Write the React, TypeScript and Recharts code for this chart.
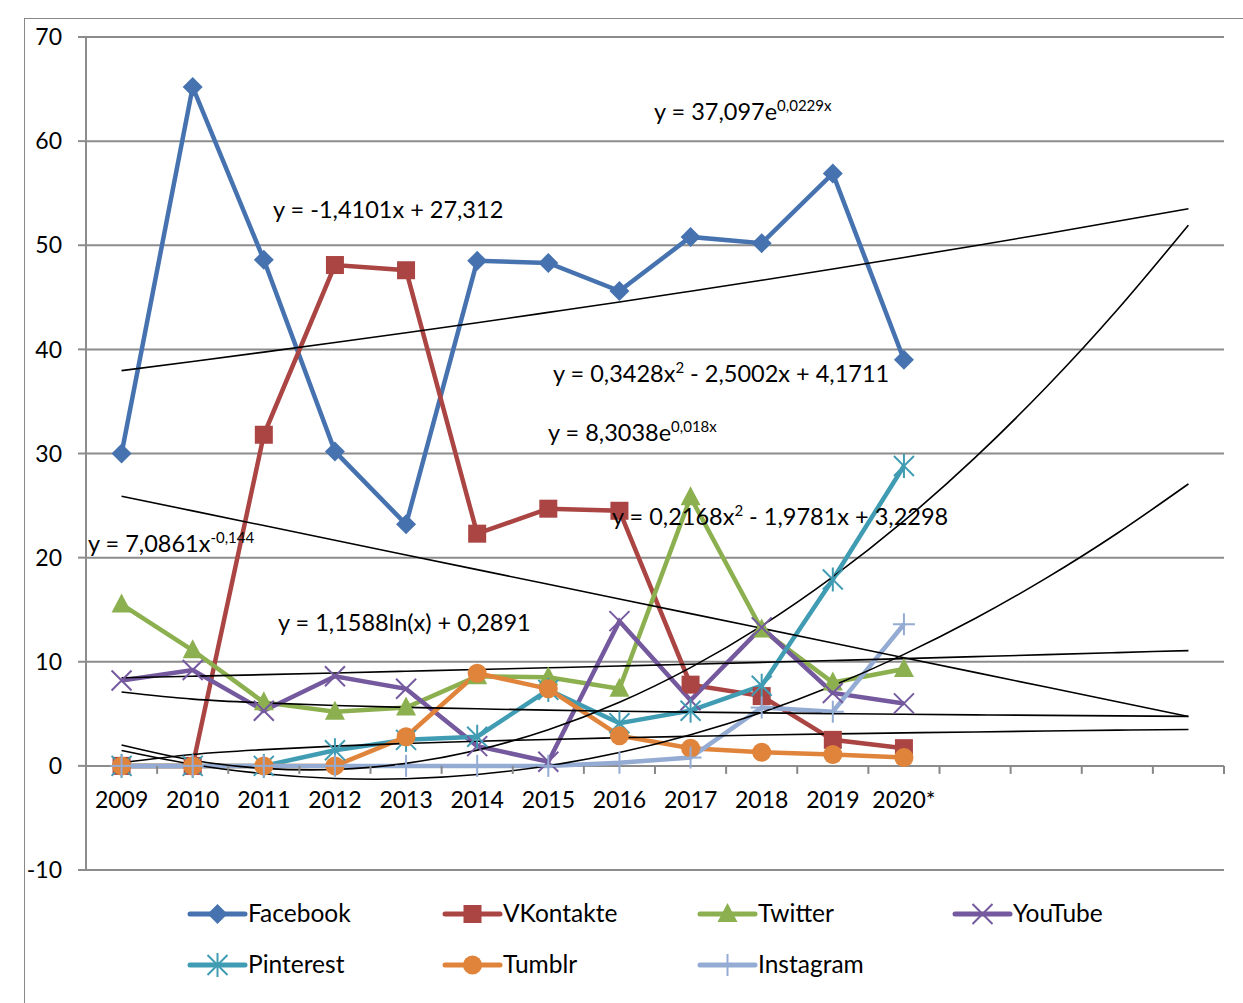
import React from "react";
import { LineChart, Line, XAxis, YAxis, CartesianGrid } from "recharts";

// categories (last four are empty forecast slots used by the trendlines)
const YEARS = ["2009", "2010", "2011", "2012", "2013", "2014", "2015", "2016", "2017", "2018", "2019", "2020*"];
const CATEGORIES = [...YEARS, "", "", "", ""];

const FACEBOOK = [30, 65.2, 48.6, 30.2, 23.2, 48.5, 48.3, 45.6, 50.8, 50.2, 56.9, 39.0];
const VKONTAKTE = [0, 0, 31.8, 48.1, 47.6, 22.3, 24.7, 24.5, 7.8, 6.7, 2.5, 1.7];
const TWITTER = [15.5, 11.1, 6.1, 5.2, 5.6, 8.6, 8.5, 7.4, 25.8, 13.1, 8.0, 9.3];
const YOUTUBE = [8.2, 9.2, 5.3, 8.6, 7.4, 1.9, 0.4, 13.9, 6.3, 13.3, 7.0, 6.0];
const PINTEREST = [0, 0, 0, 1.5, 2.5, 2.8, 7.3, 4.1, 5.3, 7.7, 17.9, 28.8];
const TUMBLR = [0, 0, 0, 0, 2.8, 8.9, 7.4, 2.9, 1.7, 1.3, 1.1, 0.8];
const INSTAGRAM = [0, 0, 0, 0, 0, 0, 0, 0.3, 0.8, 5.6, 5.2, 13.6];

// trendline values read at each category position
const TREND_FB = [37.96, 38.84, 39.74, 40.66, 41.6, 42.56, 43.55, 44.55, 45.59, 46.64, 47.72, 48.83, 49.96, 51.11, 52.3, 53.51];
const TREND_VK = [25.9, 24.49, 23.08, 21.67, 20.26, 18.85, 17.44, 16.03, 14.62, 13.21, 11.8, 10.39, 8.98, 7.57, 6.16, 4.75];
const TREND_TW = [8.46, 8.61, 8.76, 8.92, 9.09, 9.25, 9.42, 9.59, 9.76, 9.94, 10.12, 10.3, 10.49, 10.68, 10.88, 11.07];
const TREND_YT = [7.09, 6.41, 6.05, 5.8, 5.62, 5.48, 5.35, 5.25, 5.16, 5.09, 5.02, 4.96, 4.9, 4.85, 4.8, 4.75];
const TREND_PI = [2.01, 0.54, -0.24, -0.35, 0.24, 1.51, 3.47, 6.11, 9.44, 13.45, 18.15, 23.53, 29.6, 36.36, 43.8, 51.93];
const TREND_TU = [0.29, 1.09, 1.56, 1.9, 2.15, 2.37, 2.54, 2.7, 2.84, 2.96, 3.07, 3.17, 3.26, 3.35, 3.43, 3.5];
const TREND_IN = [1.47, 0.14, -0.75, -1.21, -1.24, -0.83, 0.01, 1.28, 2.99, 5.13, 7.7, 10.71, 14.15, 18.03, 22.34, 27.08];

const Y_TICKS = [-10, 0, 10, 20, 30, 40, 50, 60, 70];

const FONT = "Lato, 'Open Sans', sans-serif";

const W = 1243;
const H = 1003;
const X_H = 30;
const MARGIN = { top: 37, right: 19, bottom: 133 - X_H, left: 0 };
const Y_W = 86;
const PLOT_H = H - MARGIN.top - MARGIN.bottom - X_H;
const PLOT_W = W - MARGIN.right - Y_W;
const BAND = PLOT_W / CATEGORIES.length;
const ZERO_UP = (PLOT_H * 10) / 80; // distance from -10 (chart bottom) to the 0 line

type Shape = "diamond" | "square" | "triangle" | "x" | "star" | "circle" | "plus";

const SERIES: { key: string; name: string; color: string; shape: Shape; values: number[] }[] = [
  { key: "facebook", name: "Facebook", color: "#4673B0", shape: "diamond", values: FACEBOOK },
  { key: "vkontakte", name: "VKontakte", color: "#AA4543", shape: "square", values: VKONTAKTE },
  { key: "twitter", name: "Twitter", color: "#8CB04F", shape: "triangle", values: TWITTER },
  { key: "youtube", name: "YouTube", color: "#75599E", shape: "x", values: YOUTUBE },
  { key: "pinterest", name: "Pinterest", color: "#409CB3", shape: "star", values: PINTEREST },
  { key: "tumblr", name: "Tumblr", color: "#E0843B", shape: "circle", values: TUMBLR },
  { key: "instagram", name: "Instagram", color: "#94ABD3", shape: "plus", values: INSTAGRAM },
];

const TRENDS: { key: string; values: number[]; curve: "linear" | "natural" }[] = [
  { key: "tFb", values: TREND_FB, curve: "natural" },
  { key: "tVk", values: TREND_VK, curve: "linear" },
  { key: "tTw", values: TREND_TW, curve: "natural" },
  { key: "tYt", values: TREND_YT, curve: "natural" },
  { key: "tPi", values: TREND_PI, curve: "natural" },
  { key: "tTu", values: TREND_TU, curve: "natural" },
  { key: "tIn", values: TREND_IN, curve: "natural" },
];

const data = CATEGORIES.map((label, i) => {
  const row: any = { idx: i, label };
  SERIES.forEach((s) => (row[s.key] = s.values[i]));
  TRENDS.forEach((t) => (row[t.key] = t.values[i]));
  return row;
});

function Marker({ shape, cx, cy, color }: { shape: Shape; cx: number; cy: number; color: string }) {
  switch (shape) {
    case "diamond":
      return <polygon points={`${cx},${cy - 10} ${cx + 10},${cy} ${cx},${cy + 10} ${cx - 10},${cy}`} fill={color} />;
    case "square":
      return <rect x={cx - 9} y={cy - 9} width={18} height={18} fill={color} />;
    case "triangle":
      return <polygon points={`${cx},${cy - 11} ${cx + 10},${cy + 8} ${cx - 10},${cy + 8}`} fill={color} />;
    case "circle":
      return <circle cx={cx} cy={cy} r={9.5} fill={color} />;
    case "x":
      return (
        <g stroke={color} strokeWidth={2}>
          <line x1={cx - 10} y1={cy - 10} x2={cx + 10} y2={cy + 10} />
          <line x1={cx - 10} y1={cy + 10} x2={cx + 10} y2={cy - 10} />
        </g>
      );
    case "star":
      return (
        <g stroke={color} strokeWidth={2}>
          <line x1={cx - 10} y1={cy - 10} x2={cx + 10} y2={cy + 10} />
          <line x1={cx - 10} y1={cy + 10} x2={cx + 10} y2={cy - 10} />
          <line x1={cx} y1={cy - 12} x2={cx} y2={cy + 12} />
        </g>
      );
    case "plus":
      return (
        <g stroke={color} strokeWidth={2}>
          <line x1={cx - 11} y1={cy} x2={cx + 11} y2={cy} />
          <line x1={cx} y1={cy - 11} x2={cx} y2={cy + 11} />
        </g>
      );
  }
  return null;
}

const makeDot = (shape: Shape, color: string) => (props: any) => {
  const { cx, cy, value, index } = props;
  if (value == null || cy == null || isNaN(cy)) return <g key={`d-${index}`} />;
  return (
    <g key={`d-${index}`}>
      <Marker shape={shape} cx={cx} cy={cy} color={color} />
    </g>
  );
};

function XTick(props: any) {
  const { x, y, payload } = props;
  const y0 = y - ZERO_UP;
  const label = CATEGORIES[payload.value] ?? "";
  return (
    <g>
      <line x1={x + BAND / 2} y1={y0} x2={x + BAND / 2} y2={y0 + 8} stroke="#888" strokeWidth={2} />
      <text x={x} y={y0 + 42} textAnchor="middle" fontSize={23} fontFamily={FONT} fill="#000">
        {label}
      </text>
    </g>
  );
}

const LABELS: { x: number; y: number; parts: { t: string; sup?: boolean }[] }[] = [
  { x: 654, y: 120, parts: [{ t: "y = 37,097e" }, { t: "0,0229x", sup: true }] },
  { x: 273, y: 218, parts: [{ t: "y = -1,4101x + 27,312" }] },
  { x: 553, y: 382, parts: [{ t: "y = 0,3428x" }, { t: "2", sup: true }, { t: " - 2,5002x + 4,1711" }] },
  { x: 548, y: 441, parts: [{ t: "y = 8,3038e" }, { t: "0,018x", sup: true }] },
  { x: 612, y: 525, parts: [{ t: "y = 0,2168x" }, { t: "2", sup: true }, { t: " - 1,9781x + 3,2298" }] },
  { x: 88, y: 552, parts: [{ t: "y = 7,0861x" }, { t: "-0,144", sup: true }] },
  { x: 278, y: 631, parts: [{ t: "y = 1,1588ln(x) + 0,2891" }] },
];

const LEGEND_X = [190, 445, 700, 955];
const LEGEND_Y = [914, 965];

export default function App() {
  return (
    <div style={{ position: "absolute", left: 0, top: 0, width: W, height: H, background: "#fff", overflow: "hidden" }}>
      <div style={{ position: "absolute", left: 24, top: 18, width: W, height: H, border: "1px solid #888" }} />
      <div style={{ position: "absolute", left: 0, top: 0 }}>
        <LineChart width={W} height={H} data={data} margin={MARGIN}>
          <CartesianGrid horizontal vertical={false} stroke="#8c8c8c" strokeWidth={2} />
          <XAxis
            dataKey="idx"
            type="category"
            height={X_H}
            interval={0}
            padding={{ left: BAND / 2, right: BAND / 2 }}
            axisLine={false}
            tickLine={false}
            tickSize={0}
            tickMargin={0}
            tick={<XTick />}
          />
          <YAxis
            width={Y_W}
            domain={[-10, 70]}
            ticks={Y_TICKS}
            interval={0}
            axisLine={{ stroke: "#8c8c8c", strokeWidth: 2 }}
            tickLine={{ stroke: "#8c8c8c", strokeWidth: 2 }}
            tickSize={8}
            tickMargin={16}
            tick={{ fontSize: 23, fill: "#000", fontFamily: FONT }}
          />
          {SERIES.map((s) => (
            <Line
              key={s.key}
              dataKey={s.key}
              name={s.name}
              type="linear"
              stroke={s.color}
              strokeWidth={4.5}
              dot={makeDot(s.shape, s.color)}
              activeDot={false}
              isAnimationActive={false}
            />
          ))}
          {TRENDS.map((t) => (
            <Line
              key={t.key}
              dataKey={t.key}
              type={t.curve}
              stroke="#000"
              strokeWidth={1.6}
              dot={false}
              activeDot={false}
              legendType="none"
              isAnimationActive={false}
            />
          ))}
        </LineChart>
      </div>
      <svg width={W} height={H} style={{ position: "absolute", left: 0, top: 0, pointerEvents: "none" }}>
        {LABELS.map((l, i) => (
          <text key={i} x={l.x} y={l.y} fontSize={23.5} fontFamily={FONT} fill="#000">
            {l.parts.map((p, j) =>
              p.sup ? (
                <tspan key={j} fontSize={15} dy={-9}>
                  {p.t}
                </tspan>
              ) : (
                <tspan key={j} dy={j > 0 && l.parts[j - 1].sup ? 9 : 0}>
                  {p.t}
                </tspan>
              )
            )}
          </text>
        ))}
        {SERIES.map((s, i) => {
          const x = LEGEND_X[i % 4];
          const y = LEGEND_Y[Math.floor(i / 4)];
          return (
            <g key={s.key}>
              <line x1={x} y1={y} x2={x + 55} y2={y} stroke={s.color} strokeWidth={5} strokeLinecap="round" />
              <Marker shape={s.shape} cx={x + 27.5} cy={y} color={s.color} />
              <text x={x + 58} y={y + 8} fontSize={24.5} fontFamily={FONT} fill="#000">
                {s.name}
              </text>
            </g>
          );
        })}
      </svg>
    </div>
  );
}
